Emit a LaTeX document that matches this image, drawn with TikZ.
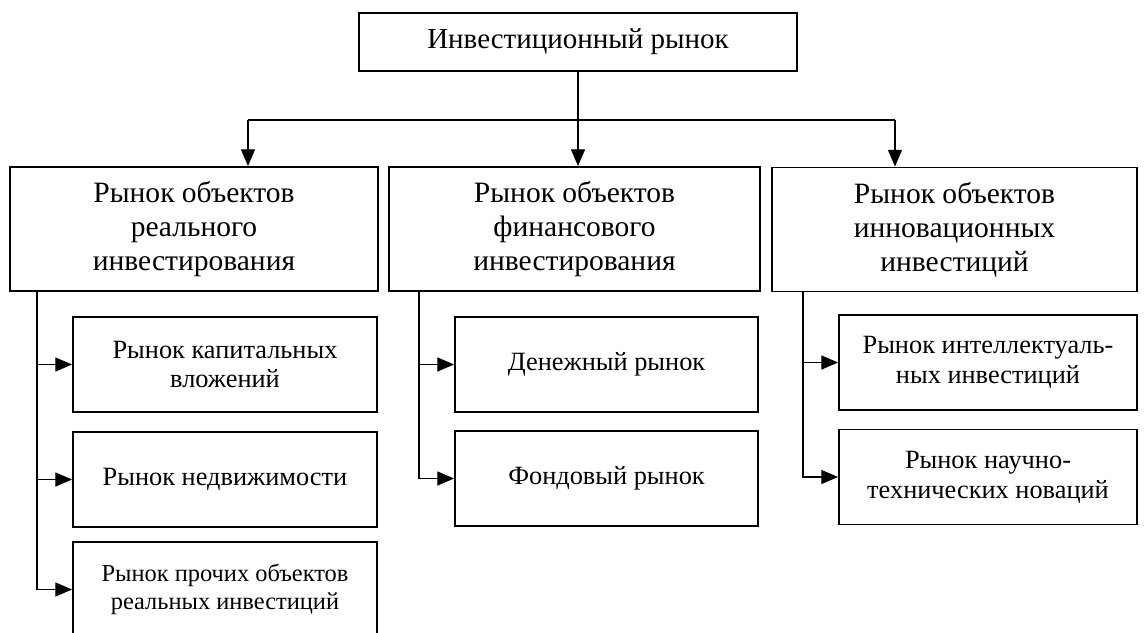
\documentclass[tikz,border=0pt]{standalone}
\usepackage{fontspec}
\setmainfont{Liberation Serif}
\usetikzlibrary{arrows.meta}

\begin{document}
\begin{tikzpicture}[x=0.02cm, y=-0.02cm,
  box/.style={draw, line width=1.1pt, inner sep=0pt, align=center},
  sub/.style={box, font=\fontsize{15}{17}\selectfont},
  arr/.style={line width=0.6pt, -{Triangle[length=9.5pt, width=8pt]}}]

  \useasboundingbox (0,0) rectangle (1145,632);

  % top level
  \node[box, minimum width=438*0.02cm, minimum height=58*0.02cm,
        font=\fontsize{16.5}{20}\selectfont] (top) at (578,42) {Инвестиционный рынок};

  % second level
  \begin{scope}[every node/.append style={box, minimum height=124*0.02cm,
        font=\fontsize{16.8}{19.3}\selectfont}]
    \node[minimum width=368*0.02cm] (real) at (194,229)   {Рынок объектов\\реального\\инвестирования};
    \node[minimum width=371*0.02cm] (fin)  at (574.5,229) {Рынок объектов\\финансового\\инвестирования};
    \node[minimum width=365*0.02cm] (inn)  at (954.5,229.5) {Рынок объектов\\инновационных\\инвестиций};
  \end{scope}

  % third level
  \begin{scope}[every node/.append style={sub, minimum height=95*0.02cm}]
    \node[minimum width=304*0.02cm] (cap)   at (225,364.5) {Рынок капитальных\\вложений};
    \node[minimum width=304*0.02cm] (estate) at (225,479.5) {Рынок недвижимости};
    \node[minimum width=304*0.02cm, font=\fontsize{13.9}{16}\selectfont]
         (other) at (225,589.5) {Рынок прочих объектов\\реальных инвестиций};
    \node[minimum width=303*0.02cm] (money) at (606.5,364.5) {Денежный рынок};
    \node[minimum width=303*0.02cm] (stock) at (606.5,478.5) {Фондовый рынок};
    \node[minimum width=298*0.02cm] (intel) at (988,362.5) {Рынок интеллектуаль-\\ных инвестиций};
    \node[minimum width=298*0.02cm] (tech)  at (988,477)   {Рынок научно-\\технических новаций};
  \end{scope}

  % top -> second level
  \coordinate (hl) at (248,120);
  \coordinate (hr) at (895,120);
  \draw[line width=0.6pt] (hl) -- (hr);
  \draw[arr] (top.south) -- (top.south |- fin.north);
  \draw[arr] (hl) -- (hl |- real.north);
  \draw[arr] (hr) -- (hr |- inn.north);

  % second -> third level
  \coordinate (realS) at (37,291);
  \coordinate (finS)  at (419,291);
  \coordinate (innS)  at (803,292);
  \foreach \n in {cap,estate,other}
    \draw[arr] (realS) |- (\n.west);
  \foreach \n in {money,stock}
    \draw[arr] (finS) |- (\n.west);
  \foreach \n in {intel,tech}
    \draw[arr] (innS) |- (\n.west);

\end{tikzpicture}
\end{document}
